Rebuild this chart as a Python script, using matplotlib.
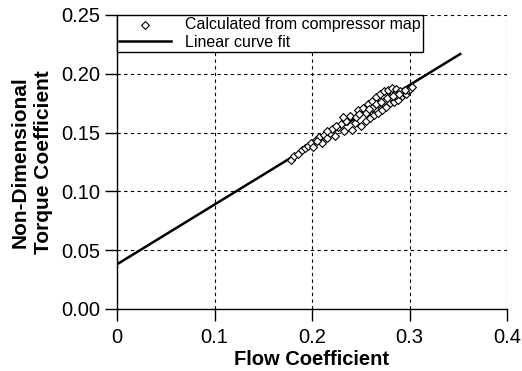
import matplotlib
matplotlib.use("Agg")
import matplotlib.pyplot as plt
import numpy as np

plt.rcParams['font.family'] = ['Liberation Sans', 'DejaVu Sans']

# Scatter data
flow_coef = [0.178, 0.182, 0.186, 0.190, 0.193, 0.196, 0.199, 0.201, 0.204, 0.207,
             0.210, 0.212, 0.215, 0.218, 0.221, 0.224, 0.227, 0.230, 0.233, 0.236,
             0.239, 0.241, 0.244, 0.247, 0.250, 0.252, 0.255, 0.257, 0.259, 0.262,
             0.264, 0.266, 0.268, 0.270, 0.272, 0.274, 0.276, 0.278, 0.280, 0.282,
             0.284, 0.286, 0.288, 0.290, 0.292, 0.294, 0.296, 0.298, 0.300, 0.303,
             0.215, 0.225, 0.235, 0.245, 0.255, 0.262, 0.268, 0.274, 0.280, 0.286,
             0.205, 0.232, 0.248, 0.258, 0.266, 0.271, 0.277, 0.283, 0.289, 0.295]
torque_coef = [0.127, 0.130, 0.132, 0.135, 0.137, 0.139, 0.141, 0.138, 0.144, 0.146,
               0.141, 0.148, 0.145, 0.150, 0.153, 0.147, 0.155, 0.157, 0.151, 0.160,
               0.164, 0.152, 0.158, 0.169, 0.156, 0.171, 0.160, 0.174, 0.162, 0.177,
               0.165, 0.180, 0.167, 0.183, 0.169, 0.185, 0.172, 0.186, 0.175, 0.188,
               0.176, 0.187, 0.178, 0.185, 0.181, 0.184, 0.183, 0.186, 0.187, 0.189,
               0.151, 0.156, 0.160, 0.163, 0.167, 0.171, 0.174, 0.177, 0.180, 0.182,
               0.143, 0.163, 0.166, 0.170, 0.174, 0.176, 0.179, 0.181, 0.183, 0.186]

# Linear curve fit
fit_x = [0.0, 0.352]
fit_intercept = 0.038
fit_slope = 0.508

x_ticks = [0, 0.1, 0.2, 0.3, 0.4]
x_labels = ['0', '0.1', '0.2', '0.3', '0.4']
y_ticks = [0.00, 0.05, 0.10, 0.15, 0.20, 0.25]
y_labels = ['0.00', '0.05', '0.10', '0.15', '0.20', '0.25']

fig = plt.figure(figsize=(5.22, 3.71), dpi=100)
ax = fig.add_axes([117/522, 1 - 309/371, (507-117)/522, (309-15)/371])

fx = np.array(fit_x)
ax.plot(fx, fit_intercept + fit_slope * fx, color='black', lw=1.8, zorder=3,
        label='Linear curve fit')
ax.scatter(flow_coef, torque_coef, marker='D', s=16, facecolors='white',
           edgecolors='black', linewidths=0.8, zorder=4,
           label='Calculated from compressor map')

ax.set_xlim(0, 0.4)
ax.set_ylim(0, 0.25)
ax.set_xticks(x_ticks)
ax.set_xticklabels(x_labels)
ax.set_yticks(y_ticks)
ax.set_yticklabels(y_labels)
ax.tick_params(labelsize=14.5, direction='out', length=8.5, width=1, colors='black')
ax.tick_params(axis='x', pad=5)
ax.tick_params(axis='y', pad=3.5)
ax.grid(True, linestyle=(0, (3, 3)), color='black', lw=0.8)
ax.set_axisbelow(True)
for s in ['top', 'right']:
    ax.spines[s].set_visible(False)
ax.spines['left'].set_linewidth(1)
ax.spines['bottom'].set_linewidth(1)

ax.set_xlabel('Flow Coefficient', fontsize=14.5, fontweight='bold', labelpad=2)
ax.set_ylabel('Non-Dimensional\nTorque Coefficient', fontsize=15, fontweight='bold',
              labelpad=6, linespacing=1.3)

handles, labels = ax.get_legend_handles_labels()
leg = ax.legend(handles[::-1], labels[::-1], loc='upper left',
                bbox_to_anchor=(0.0, 1.0), fontsize=11.5, frameon=True,
                fancybox=False, edgecolor='black', framealpha=1,
                borderpad=0.15, labelspacing=0.15, handlelength=3.2,
                handletextpad=0.9, borderaxespad=0.0)
leg.get_frame().set_linewidth(1)

fig.savefig('out.png', dpi=100)
